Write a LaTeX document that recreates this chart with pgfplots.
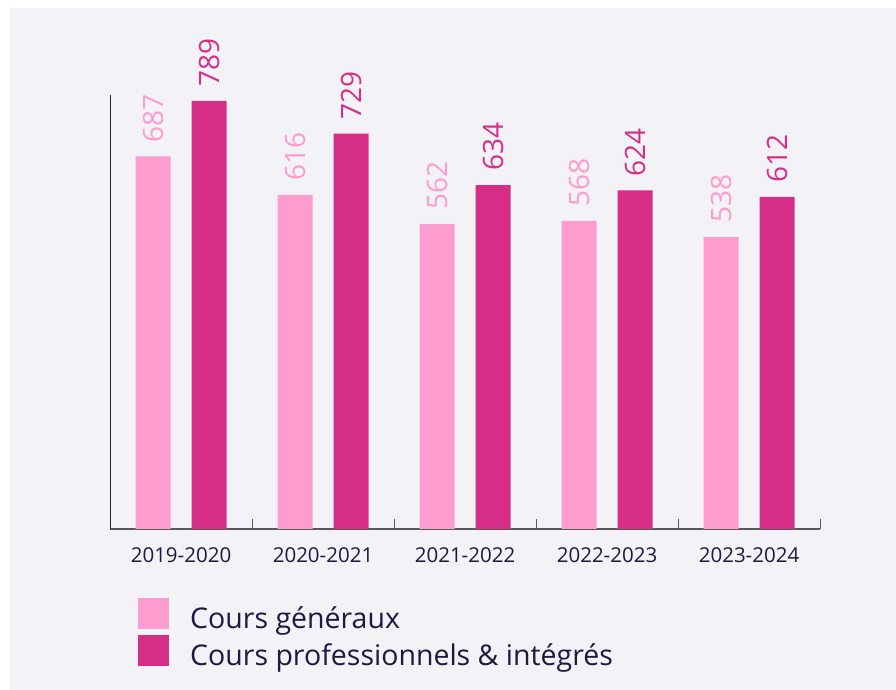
\documentclass[border=0pt]{standalone}
\usepackage{fontspec}
\setmainfont{Open Sans}
\usepackage{pgfplots}
\pgfplotsset{compat=1.18}
\definecolor{bg}{RGB}{243,242,246}
\definecolor{lpink}{RGB}{253,156,206}
\definecolor{dpink}{RGB}{214,46,135}
\definecolor{navy}{RGB}{32,24,64}
\begin{document}
\begin{tikzpicture}
\fill[white] (0,0) rectangle (896pt,690pt);
\fill[bg] (10pt,0) rectangle (896pt,682pt);
\begin{axis}[
  at={(110pt,161pt)}, anchor=south west,
  scale only axis, width=710pt, height=434pt,
  xmin=0, xmax=5, ymin=0, ymax=800,
  axis lines=left, axis line style={-},
  x axis line style={draw=black!65, line width=1.3pt},
  y axis line style={draw=black!85, line width=1pt},
  ytick=\empty,
  xtick={0.5,1.5,2.5,3.5,4.5},
  xticklabels={2019-2020,2020-2021,2021-2022,2022-2023,2023-2024},
  major x tick style={draw=none},
  minor xtick={1,2,3,4,5},
  minor tick length=-10pt,
  minor x tick style={draw=black!65, line width=1pt},
  /pgf/number format/assume math mode=true,
  xticklabel style={font=\fontsize{20.5}{24}\selectfont, text=navy, yshift=-11pt},
  ybar, bar width=35pt,
  nodes near coords,
  every node near coord/.append style={rotate=90, anchor=west, font=\fontsize{28}{32}\selectfont, inner xsep=14pt, inner ysep=0pt},
  legend style={at={(0.03944,-0.159)}, anchor=north west, draw=none, fill=none, inner sep=0pt,
    nodes={inner sep=0pt}, column sep=0pt, row sep=5pt,
    font=\fontsize{28.5}{32}\selectfont, text=navy},
  legend cell align=left,
  legend image code/.code={\fill[#1] (0pt,-11pt) rectangle (31pt,20pt); \path (52pt,0pt);},
]
\addplot[lpink, fill=lpink, draw=none, bar shift=-28pt] coordinates {(0.5,687) (1.5,616) (2.5,562) (3.5,568) (4.5,538)};
\addplot[dpink, fill=dpink, draw=none, bar shift=28pt] coordinates {(0.5,789) (1.5,729) (2.5,634) (3.5,624) (4.5,612)};
\legend{Cours généraux, Cours professionnels \& intégrés}
\end{axis}
\end{tikzpicture}
\end{document}
